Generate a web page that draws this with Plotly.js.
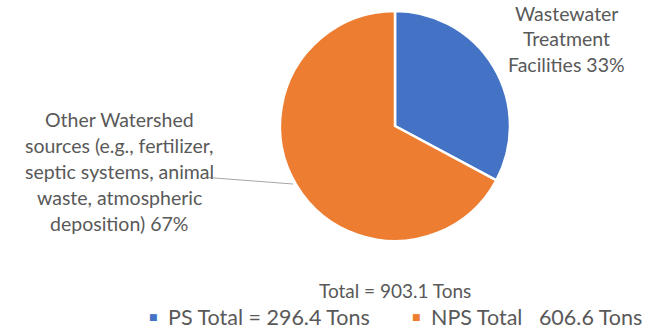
<!DOCTYPE html>
<html>
<head>
<meta charset="utf-8">
<script src="https://cdn.plot.ly/plotly-3.0.1.min.js"></script>
<style>
  html, body { margin: 0; padding: 0; background: #ffffff; }
  #chart { width: 650px; height: 334px; }
</style>
</head>
<body>
<div id="chart"></div>
<script>
// Nitrogen load by source (tons)
const sourceNames = ['PS Total', 'NPS Total'];
const tons = [296.4, 606.6];
const totalTons = 903.1;
const sliceColors = ['#4472C4', '#ED7D31'];

// Slice label lines (percentage is appended to the last line)
const sliceLabelLines = [
  ['Wastewater', 'Treatment', 'Facilities'],
  ['Other Watershed', 'sources (e.g., fertilizer,', 'septic systems, animal', 'waste, atmospheric', 'deposition)']
];

const W = 650, H = 334;
const px = x => x / W;
const py = y => 1 - y / H;

const textColor = '#595959';
const fontFamily = 'Lato, "Open Sans", sans-serif';
const labelSize = 19.5;
const lineStep = 25.8;

const sum = tons.reduce((a, b) => a + b, 0);
const pct = tons.map(v => Math.round(v / sum * 100) + '%');

const annotations = [];

// Slice labels, one annotation per line
const labelAnchors = [
  { x: 566, y: 13 },   // first line centre for slice 0
  { x: 119, y: 120 }   // first line centre for slice 1
];
sliceLabelLines.forEach((lines, i) => {
  lines.forEach((ln, j) => {
    const txt = j === lines.length - 1 ? ln + ' ' + pct[i] : ln;
    annotations.push({
      xref: 'paper', yref: 'paper',
      x: px(labelAnchors[i].x), y: py(labelAnchors[i].y + j * lineStep),
      xanchor: 'center', yanchor: 'middle',
      text: txt, showarrow: false,
      font: { family: fontFamily, size: labelSize, color: textColor }
    });
  });
});

// Total line
annotations.push({
  xref: 'paper', yref: 'paper',
  x: px(395), y: py(290.5), xanchor: 'center', yanchor: 'middle',
  text: 'Total = ' + totalTons.toFixed(1) + ' Tons', showarrow: false,
  font: { family: fontFamily, size: 19, color: textColor }
});

// Legend rows: swatch + text
const legendText = [
  sourceNames[0] + ' = ' + tons[0].toFixed(1) + ' Tons',
  sourceNames[1] + '&nbsp;&nbsp;&nbsp;' + tons[1].toFixed(1) + ' Tons'
];
const legendX = [153.5, 416.5];
legendText.forEach((t, i) => {
  annotations.push({
    xref: 'paper', yref: 'paper',
    x: px(legendX[i]), y: py(316.5), xanchor: 'center', yanchor: 'middle',
    text: '■', showarrow: false,
    font: { family: 'DejaVu Sans', size: 9, color: sliceColors[i] }
  });
  annotations.push({
    xref: 'paper', yref: 'paper',
    x: px(legendX[i] + 12), y: py(317), xanchor: 'left', yanchor: 'middle',
    text: t, showarrow: false,
    font: { family: fontFamily, size: 21.5, color: textColor }
  });
});

const data = [{
  type: 'pie',
  values: tons,
  labels: sourceNames,
  sort: false,
  direction: 'clockwise',
  rotation: 0,
  textinfo: 'none',
  hoverinfo: 'label+value+percent',
  marker: { colors: sliceColors, line: { color: '#ffffff', width: 2.5 } },
  domain: { x: [px(280), px(510)], y: [py(241), py(11)] },
  showlegend: false
}];

const layout = {
  width: W, height: H,
  margin: { l: 0, r: 0, t: 0, b: 0 },
  paper_bgcolor: '#ffffff',
  showlegend: false,
  annotations: annotations,
  shapes: [{
    // leader line from the long label to its slice
    type: 'line', xref: 'paper', yref: 'paper',
    x0: px(208), y0: py(177.5), x1: px(293), y1: py(184),
    line: { color: '#A6A6A6', width: 1 }
  }]
};

Plotly.newPlot('chart', data, layout, { staticPlot: true, displayModeBar: false });
</script>
</body>
</html>
